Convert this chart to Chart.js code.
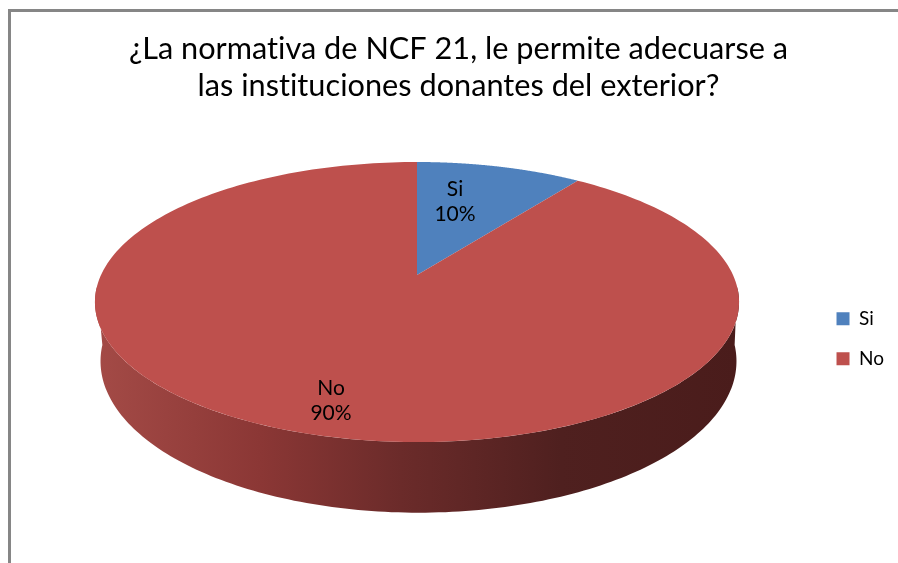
<!DOCTYPE html>
<html>
<head>
<meta charset="utf-8">
<title>NCF 21</title>
<script src="https://cdn.jsdelivr.net/npm/chart.js@4"></script>
<style>
  html, body { margin: 0; background: #fff; overflow: hidden; }
  #frame { position: absolute; left: 8px; top: 9px; width: 890px; height: 554px; border-left: 3px solid #868686; border-top: 3px solid #868686; box-sizing: border-box; }
  #pie { position: absolute; left: 0; top: 0; }
</style>
</head>
<body>
<div id="frame"></div>
<canvas id="pie" width="898" height="563"></canvas>
<script>
const categories = ['Si', 'No'];
const answers = [10, 90];
const sliceColors = ['#4f81bd', '#be504d'];
const titleLines = ['¿La normativa de NCF 21, le permite adecuarse a', 'las instituciones donantes del exterior?'];

// the pie is tilted in perspective: unit circle -> screen
const view = { x: 417, y: 275, top: 316, bottom: 312, shift: 1.5, depth: 134.8, k: 0.193, thick: 57 };

function project(u, v, lower) {
    const w = 1 + view.k * v;
    return {
        x: view.x + (lower ? view.shift + view.bottom * u / w : view.top * u / w),
        y: view.y + (-view.depth * v + (lower ? view.thick : 0)) / w
    };
}

function rimPoint(theta, lower) {
    return project(Math.sin(theta), Math.cos(theta), lower);
}

const pie3d = {
    id: 'pie3d',
    beforeDraw(chart) {
        // no "ti" ligature in Lato
        chart.ctx.letterSpacing = '0.01px';
    },
    // replaces the flat drawing, angles still come from the arc elements
    beforeDatasetsDraw(chart) {
        const ctx = chart.ctx;
        const arcs = chart.getDatasetMeta(0).data;

        // side wall, front half of the rim
        const wall = ctx.createLinearGradient(100, 0, 740, 0);
        wall.addColorStop(0, '#a34a46');
        wall.addColorStop(0.25, '#8b3735');
        wall.addColorStop(0.47, '#6b2b2a');
        wall.addColorStop(0.72, '#4f201f');
        wall.addColorStop(1, '#4a1c1b');
        ctx.beginPath();
        for (let d = 95; d <= 265; d += 1) {
            const p = rimPoint(d * Math.PI / 180, false);
            ctx.lineTo(p.x, p.y);
        }
        for (let d = 265; d >= 95; d -= 1) {
            const p = rimPoint(d * Math.PI / 180, true);
            ctx.lineTo(p.x, p.y);
        }
        ctx.closePath();
        ctx.fillStyle = wall;
        ctx.fill();

        // top faces
        arcs.forEach((arc) => {
            const from = arc.startAngle + Math.PI / 2;
            const to = arc.endAngle + Math.PI / 2;
            const c = project(0, 0, false);
            ctx.beginPath();
            ctx.moveTo(c.x, c.y);
            for (let i = 0; i <= 240; i++) {
                const p = rimPoint(from + (to - from) * i / 240, false);
                ctx.lineTo(p.x, p.y);
            }
            ctx.closePath();
            ctx.fillStyle = arc.options.backgroundColor;
            ctx.fill();
        });

        // slice labels
        const total = answers.reduce((a, b) => a + b, 0);
        const spots = [[455, 189], [331, 388]];
        ctx.fillStyle = '#000';
        ctx.font = '21px Lato';
        ctx.textAlign = 'center';
        ctx.textBaseline = 'middle';
        categories.forEach((name, i) => {
            ctx.fillText(name, spots[i][0], spots[i][1]);
            ctx.fillText(Math.round(answers[i] / total * 100) + '%', spots[i][0], spots[i][1] + 25);
        });
        return false;
    }
};

new Chart(document.getElementById('pie'), {
    type: 'pie',
    data: {
        labels: categories,
        datasets: [{ data: answers, backgroundColor: sliceColors, borderWidth: 0 }]
    },
    options: {
        responsive: false,
        animation: false,
        layout: { padding: { left: 23, right: 4 } },
        plugins: {
            title: {
                display: true,
                text: titleLines,
                color: '#000',
                font: { family: 'Lato', size: 30.7, weight: 'normal', lineHeight: 1.2 },
                padding: { top: 31, bottom: 10 }
            },
            legend: {
                position: 'right',
                fullSize: false,
                labels: {
                    color: '#000',
                    font: { family: 'Lato', size: 19 },
                    boxWidth: 13,
                    boxHeight: 13,
                    padding: 21
                }
            },
            tooltip: { enabled: false }
        }
    },
    plugins: [pie3d]
});
</script>
</body>
</html>
